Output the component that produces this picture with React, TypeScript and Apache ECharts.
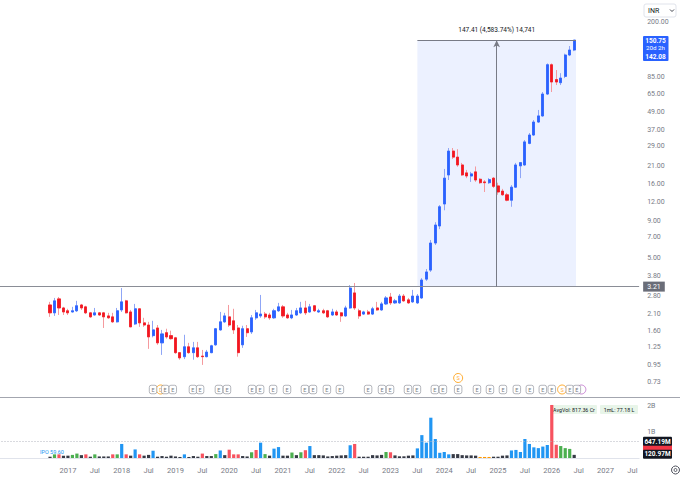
import React, { useEffect, useRef } from "react";
import * as echarts from "echarts";

// ---- time axis: monthly categories, Oct 2015 .. Aug 2027 ----
const FIRST_YEAR = 2015;
const FIRST_MONTH0 = 9; // October (0-based)
const CATEGORY_COUNT = 143;
const FIRST_BAR = 11; // Sep 2016 is category 11
const JAN_2017 = 15; // category index of Jan 2017

// ---- monthly OHLC (INR), Sep 2016 .. Jun 2026 ----
const OPEN = [
  2.42, 2.14, 2.66, 2.31, 2.21, 2.17, 2.21, 2.42, 2.35, 2.14,
  2.07, 2.14, 2.14, 2.04, 2.01, 1.86, 2.24, 2.58, 2.17, 1.8,
  2.28, 1.83, 1.77, 1.5, 1.69, 1.34, 1.57, 1.5, 1.45, 1.15,
  1.08, 1.26, 1.15, 1.24, 1.09, 1.08, 1.15, 1.3, 1.64, 1.86,
  2.01, 1.89, 1.69, 1.3, 1.67, 1.59, 1.98, 2.04, 2.1, 2.07,
  1.98, 2.21, 2.35, 2.07, 1.98, 2.07, 2.14, 2.31, 2.17, 2.39,
  2.17, 2.21, 2.21, 2.07, 2.17, 2.14, 2.04, 2.31, 2.92, 2.21,
  2.1, 2.17, 2.1, 2.31, 2.24, 2.46, 2.74, 2.5, 2.5, 2.78,
  2.62, 2.54, 2.5, 2.7, 3.62, 4.17, 6.36, 8.3, 11.7, 18.4,
  26.7, 24.3, 21.5, 19.0, 18.1, 19.3, 17.2, 16.5, 16.3, 17.5,
  15.5, 14.3, 13.5, 12.4, 15.2, 21.2, 21.5, 30.1, 34.3, 42.0,
  46.2, 65.0, 102.7, 81.5, 77.6, 85.6, 119.5, 129.2,
];
const CLOSE = [
  2.14, 2.58, 2.31, 2.17, 2.14, 2.21, 2.39, 2.31, 2.14, 2.01,
  2.14, 2.07, 2.01, 1.98, 1.86, 2.21, 2.54, 2.14, 1.72, 2.28,
  1.83, 1.77, 1.47, 1.64, 1.34, 1.54, 1.47, 1.43, 1.15, 1.06,
  1.26, 1.15, 1.24, 1.08, 1.08, 1.16, 1.28, 1.67, 1.86, 2.04,
  1.77, 1.64, 1.15, 1.67, 1.57, 1.98, 2.14, 2.1, 2.01, 1.98,
  2.21, 2.35, 2.04, 1.98, 2.07, 2.21, 2.31, 2.14, 2.35, 2.21,
  2.21, 2.14, 2.01, 2.17, 2.07, 2.04, 2.31, 3.15, 2.31, 2.04,
  2.17, 2.1, 2.28, 2.24, 2.46, 2.7, 2.5, 2.58, 2.78, 2.58,
  2.5, 2.78, 2.78, 3.57, 4.05, 6.36, 8.42, 11.2, 17.5, 26.7,
  24.3, 21.5, 18.4, 18.1, 18.7, 17.0, 16.3, 16.3, 17.1, 15.4,
  14.1, 13.5, 12.4, 15.2, 21.5, 22.3, 30.8, 34.3, 42.0, 46.2,
  65.0, 102.7, 78.4, 78.4, 83.4, 119.5, 129.2, 150.75,
];
const HIGH = [
  2.54, 2.7, 2.74, 2.35, 2.28, 2.35, 2.58, 2.46, 2.39, 2.17,
  2.31, 2.17, 2.17, 2.14, 2.14, 2.31, 3.15, 2.62, 2.24, 2.46,
  2.3, 1.98, 1.86, 1.89, 1.77, 1.64, 1.67, 1.62, 1.47, 1.16,
  1.52, 1.34, 1.36, 1.36, 1.2, 1.2, 1.3, 1.69, 2.17, 2.14,
  2.42, 2.28, 1.77, 1.75, 1.77, 2.07, 2.24, 2.83, 2.17, 2.14,
  2.28, 2.5, 2.42, 2.14, 2.24, 2.31, 2.54, 2.58, 2.46, 2.42,
  2.28, 2.28, 2.24, 2.28, 2.24, 2.17, 2.39, 3.3, 3.41, 2.28,
  2.21, 2.24, 2.35, 2.54, 2.54, 2.78, 2.92, 2.66, 2.87, 2.87,
  2.7, 3.06, 2.87, 3.68, 4.24, 6.67, 8.8, 11.5, 20.2, 28.0,
  28.0, 27.5, 22.2, 19.9, 19.3, 21.0, 17.5, 17.0, 17.5, 17.8,
  16.3, 14.8, 13.9, 15.7, 22.2, 22.5, 31.7, 35.4, 43.3, 50.7,
  67.1, 104.8, 104.8, 94.5, 90.0, 122.0, 137.5, 151.2,
];
const LOW = [
  2.01, 2.04, 2.07, 2.07, 2.07, 2.15, 2.17, 2.24, 2.1, 1.98,
  2.05, 2.04, 1.69, 1.95, 1.83, 1.84, 2.17, 2.12, 1.71, 1.77,
  1.72, 1.72, 1.22, 1.46, 1.3, 1.11, 1.43, 1.41, 1.13, 1.03,
  1.04, 1.13, 1.03, 1.06, 0.95, 1.07, 1.14, 1.28, 1.62, 1.83,
  1.72, 1.54, 1.08, 1.24, 1.47, 1.54, 1.92, 1.98, 1.95, 1.92,
  1.95, 2.17, 1.98, 1.95, 1.94, 2.04, 2.1, 2.07, 2.14, 2.17,
  2.14, 2.1, 1.98, 2.04, 2.04, 1.86, 2.01, 2.28, 2.24, 1.95,
  2.07, 2.07, 2.07, 2.21, 2.21, 2.42, 2.42, 2.46, 2.46, 2.54,
  2.46, 2.5, 2.46, 2.66, 3.52, 4.05, 6.17, 7.9, 10.6, 17.0,
  23.6, 20.9, 18.1, 17.5, 16.5, 16.5, 16.0, 14.1, 16.0, 15.0,
  13.5, 13.3, 12.2, 11.2, 15.0, 17.5, 21.2, 29.7, 33.8, 41.4,
  45.6, 64.0, 67.1, 74.8, 74.8, 83.4, 117.5, 127.0,
];

// ---- monthly volume (millions) and its colour class ----
const VOLUME = [
  50, 140, 140, 90, 90, 120, 170, 110, 140, 50,
  140, 60, 60, 60, 140, 140, 540, 140, 90, 330,
  140, 90, 120, 280, 50, 75, 50, 90, 60, 40,
  140, 40, 75, 50, 170, 75, 75, 150, 290, 110,
  320, 140, 140, 75, 60, 220, 310, 590, 150, 90,
  360, 420, 90, 90, 210, 110, 220, 300, 460, 110,
  110, 100, 60, 75, 90, 100, 110, 490, 540, 50,
  50, 50, 110, 100, 120, 230, 220, 100, 65, 65,
  90, 100, 370, 880, 590, 1550, 730, 200, 230, 140,
  150, 150, 110, 100, 100, 90, 40, 40, 40, 50,
  50, 90, 100, 290, 310, 230, 730, 540, 410, 380,
  440, 500, 2040, 510, 460, 380, 350, 120.97,
];
const VOL_CLASS =
  "dgrddggdrd" + "gdddrgbrdb" + "rddbdddddd" + "bdddrddgbd" + "rrrddgrbgd" +
  "bbddgdgrbd" + "dddddddbrd" + "dddddgrddd" + "ddbbbbbbbb" + "ddddddoood" +
  "dddbbbbbbb" + "bbrrgggd";
const VOL_MA = 647.19;
const VOL_MA2 = 404.65;

// ---- axes ----
const PRICE_TICKS = [0.73, 0.95, 1.25, 1.6, 2.1, 2.8, 3.8, 5, 7, 9, 12, 16, 21, 29, 37, 49, 65, 85, 200];
const PRICE_RANGE = [0.5668, 281.9];
const VOL_TICKS = [1000, 2000];
const VOL_MAX = 2308;

// ---- events (months after Jan 2017) ----
const EARNINGS = [
  19.0, 21.7, 23.4, 27.9, 29.5, 33.7, 35.5, 41.1, 42.9, 45.8, 48.9, 52.9, 54.7, 57.8, 60.7,
  67.0, 70.1, 71.9, 75.9, 77.9, 81.9, 83.7, 87.1, 91.3, 94.2, 97.1, 100.2, 103.1, 106.0, 108.0,
  112.0, 113.6,
];
const SPLITS = [87.1, 110.3];
const DIVIDENDS = [20.7];
const OTHER_EVENTS = [114.6];

// ---- price-range measurement ----
const MEASURE_FROM = FIRST_BAR + 82;
const MEASURE_TO = FIRST_BAR + 117.4;
const MEASURE_LOW = 3.21;
const MEASURE_HIGH = 150.62;
const MEASURE_TEXT = "147.41 (4,583.74%) 14,741";
const LAST_EXTRA = ["20d 2h", "142.08"];

const UP = "#2962FF";
const DOWN = "#F2161F";
const WICK_UP = "#8FA6F6";
const WICK_DOWN = "#F59A9E";
const VOL_COLORS: Record<string, string> = {
  b: "#2196F3",
  r: "#F7525F",
  g: "#4CAF50",
  d: "#363A45",
  o: "#FF9800",
};
const FONT = "Roboto, 'Noto Sans', sans-serif";
const AXIS_TEXT = "#787B86";

function buildCategories() {
  const out: string[] = [];
  for (let i = 0; i < CATEGORY_COUNT; i++) {
    const t = FIRST_MONTH0 + i;
    out.push(`${FIRST_YEAR + Math.floor(t / 12)}-${(t % 12) + 1}`);
  }
  return out;
}

export default function App() {
  const ref = useRef<HTMLDivElement>(null);
  useEffect(() => {
    const el = ref.current!;
    const chart = echarts.init(el, null, { renderer: "svg" });
    const LN = Math.log;
    const cats = buildCategories();
    const full = OPEN.map((o, k) => [FIRST_BAR + k, LN(o), LN(CLOSE[k]), LN(LOW[k]), LN(HIGH[k])]);
    const bodies = OPEN.map((o, k) => [
      FIRST_BAR + k,
      LN(o),
      LN(CLOSE[k]),
      LN(Math.min(o, CLOSE[k])),
      LN(Math.max(o, CLOSE[k])),
    ]);
    const vols = VOLUME.map((v, k) => ({
      value: [FIRST_BAR + k, v],
      itemStyle: { color: VOL_COLORS[VOL_CLASS[k]] },
    }));
    const ROW_LOW = 389.5;
    const ROW_HIGH = 378;
    const near = (m: number) => EARNINGS.some((e) => Math.abs(e - m) < 0.5);
    const circles: any[] = [];
    SPLITS.forEach((m) =>
      circles.push({
        value: [JAN_2017 + m, near(m) ? ROW_HIGH : ROW_LOW],
        itemStyle: { borderColor: "#FF9800" },
        label: { formatter: "S", color: "#FF9800" },
      })
    );
    DIVIDENDS.forEach((m) =>
      circles.push({
        value: [JAN_2017 + m, near(m) ? ROW_HIGH : ROW_LOW],
        itemStyle: { borderColor: "#FF9800" },
        label: { formatter: "D", color: "#FF9800" },
      })
    );
    OTHER_EVENTS.forEach((m) =>
      circles.push({
        value: [JAN_2017 + m, near(m) ? ROW_HIGH : ROW_LOW],
        itemStyle: { borderColor: "#BA68C8" },
        label: { formatter: "", color: "#BA68C8" },
      })
    );
    const mid = (MEASURE_FROM + MEASURE_TO) / 2;
    const measureLine = { color: "#787B86", width: 1, type: "solid" };

    const option: any = {
      animation: false,
      backgroundColor: "#ffffff",
      textStyle: { fontFamily: FONT },
      grid: [
        { left: -1.5, top: 0, width: 640.64, height: 398, outerBoundsMode: "none", containLabel: false },
        { left: -1.5, top: 398, width: 640.64, height: 60, outerBoundsMode: "none", containLabel: false },
      ],
      xAxis: [
        { gridIndex: 0, type: "category", data: cats, show: false },
        {
          gridIndex: 1,
          type: "category",
          data: cats,
          axisLine: { show: true, lineStyle: { color: "#E0E3EB" } },
          axisTick: { show: false },
          splitLine: { show: false },
          axisLabel: {
            color: AXIS_TEXT,
            fontSize: 7.5,
            fontFamily: FONT,
            margin: 8,
            interval: (i: number, v: string) => {
              const m = Number(v.split("-")[1]);
              return i >= JAN_2017 && (m === 1 || m === 7);
            },
            formatter: (v: string) => {
              const [y, m] = v.split("-");
              return m === "1" ? y : "Jul";
            },
          },
        },
        { gridIndex: 0, type: "value", min: -0.5, max: CATEGORY_COUNT - 0.5, show: false },
      ],
      yAxis: [
        {
          gridIndex: 0,
          type: "value",
          position: "right",
          min: LN(PRICE_RANGE[0]),
          max: LN(PRICE_RANGE[1]),
          axisLine: { show: false },
          axisTick: { show: false },
          splitLine: { show: false },
          axisLabel: {
            customValues: PRICE_TICKS.map(LN),
            formatter: (v: number) => Math.exp(v).toFixed(2),
            color: AXIS_TEXT,
            fontSize: 7,
            fontFamily: FONT,
            margin: 8,
          },
        },
        {
          gridIndex: 1,
          type: "value",
          position: "right",
          min: 0,
          max: VOL_MAX,
          axisLine: { show: false },
          axisTick: { show: false },
          splitLine: { show: false },
          axisLabel: {
            customValues: VOL_TICKS,
            formatter: (v: number) => `${v / 1000}B`,
            color: AXIS_TEXT,
            fontSize: 7,
            fontFamily: FONT,
            margin: 8,
          },
        },
        { gridIndex: 0, type: "value", min: 0, max: 398, inverse: true, show: false },
      ],
      series: [
        {
          type: "line",
          xAxisIndex: 2,
          yAxisIndex: 0,
          z: 1,
          data: [[mid, LN(MEASURE_LOW)]],
          symbol: "none",
          lineStyle: { opacity: 0 },
          silent: true,
          markArea: {
            silent: true,
            itemStyle: { color: "rgba(41,98,255,0.09)", borderWidth: 0 },
            label: {
              show: true,
              position: "top",
              distance: 7,
              color: "#131722",
              fontSize: 6.5,
              fontFamily: FONT,
            },
            data: [
              [
                { name: MEASURE_TEXT, coord: [MEASURE_FROM, LN(MEASURE_LOW)] },
                { coord: [MEASURE_TO, LN(MEASURE_HIGH)] },
              ],
            ],
          },
          markLine: {
            silent: true,
            symbol: ["none", "none"],
            label: { show: false },
            data: [
              {
                yAxis: LN(MEASURE_LOW),
                lineStyle: { color: "#8A8D96", width: 1, type: "solid" },
                label: {
                  show: true,
                  position: "end",
                  distance: 4,
                  formatter: MEASURE_LOW.toFixed(2),
                  color: "#ffffff",
                  backgroundColor: "#6A6D78",
                  padding: [2, 4, 1, 4],
                  fontSize: 7,
                  fontFamily: FONT,
                },
              },
              [
                { coord: [MEASURE_FROM, LN(MEASURE_HIGH)], lineStyle: measureLine },
                { coord: [MEASURE_TO, LN(MEASURE_HIGH)] },
              ],
              [
                { coord: [mid, LN(MEASURE_LOW)], symbol: "none", lineStyle: measureLine },
                { coord: [mid, LN(MEASURE_HIGH)], symbol: "arrow", symbolSize: [5, 7] },
              ],
            ],
          },
        },
        {
          type: "candlestick",
          xAxisIndex: 0,
          yAxisIndex: 0,
          z: 2,
          barWidth: 2.6,
          encode: { x: 0, y: [1, 2, 3, 4] },
          data: full,
          itemStyle: {
            color: "rgba(0,0,0,0)",
            color0: "rgba(0,0,0,0)",
            borderColor: WICK_UP,
            borderColor0: WICK_DOWN,
            borderWidth: 1,
          },
        },
        {
          type: "candlestick",
          xAxisIndex: 0,
          yAxisIndex: 0,
          z: 3,
          barWidth: 2.6,
          encode: { x: 0, y: [1, 2, 3, 4] },
          data: bodies,
          itemStyle: {
            color: UP,
            color0: DOWN,
            borderColor: UP,
            borderColor0: DOWN,
            borderWidth: 0.7,
          },
        },
        {
          type: "bar",
          xAxisIndex: 1,
          yAxisIndex: 1,
          barWidth: 3.2,
          data: vols,
          markLine: {
            silent: true,
            symbol: ["none", "none"],
            label: { show: false },
            data: [
              { yAxis: VOL_MA, lineStyle: { color: "#B2B5BE", width: 1, type: [1, 2] } },
            ],
          },
        },
        {
          type: "scatter",
          xAxisIndex: 2,
          yAxisIndex: 2,
          z: 3,
          symbol: "circle",
          symbolSize: 9,
          itemStyle: { color: "#ffffff", borderWidth: 1 },
          label: { show: true, position: "inside", fontSize: 5.5, fontFamily: FONT },
          data: circles,
        },
        {
          type: "scatter",
          xAxisIndex: 2,
          yAxisIndex: 2,
          z: 4,
          symbol: "roundRect",
          symbolSize: [7.5, 8.5],
          itemStyle: { color: "#ffffff", borderColor: "#8A8D96", borderWidth: 0.8 },
          label: {
            show: true,
            position: "inside",
            formatter: "E",
            fontSize: 5.5,
            color: "#50535E",
            fontFamily: FONT,
          },
          data: EARNINGS.map((m) => [JAN_2017 + m, ROW_LOW]),
        },
      ],
    };
    chart.setOption(option);

    const last = CLOSE.length - 1;
    const pt = chart.convertToPixel({ seriesIndex: 2 }, [FIRST_BAR + last, LN(CLOSE[last])]) as number[];
    const py = pt ? pt[1] : 40;
    const volY = (v: number) => {
      const p = chart.convertToPixel({ seriesIndex: 3 }, [FIRST_BAR + last, v]) as number[];
      return p ? p[1] : 458 - v * 0.026;
    };
    const maY = volY(VOL_MA);
    const ma2Y = volY(VOL_MA2);
    const lastVolY = volY(VOLUME[last]);
    const txt = (text: string, x: number, y: number, size: number, fill: string, extra: any = {}) => ({
      type: "text",
      x,
      y,
      style: {
        text,
        fill,
        fontSize: size,
        fontFamily: FONT,
        align: extra.align || "left",
        textAlign: extra.align || "left",
        verticalAlign: "middle",
        textVerticalAlign: "middle",
        fontWeight: extra.bold ? "bold" : "normal",
      },
      z: extra.z ?? 100,
    });
    chart.setOption({
      graphic: [
        { type: "line", shape: { x1: 0, y1: 397.5, x2: 680, y2: 397.5 }, style: { stroke: "#A3A6AF", lineWidth: 1 }, z: 50 },
        // currency box
        { type: "rect", shape: { x: 644, y: 4, width: 32, height: 13, r: 2 }, style: { fill: "#fff", stroke: "#E0E3EB", lineWidth: 1 }, z: 100 },
        txt("INR", 648, 10.5, 7, "#131722"),
        { type: "polyline", shape: { points: [[670, 9.5], [672, 11.5], [674, 9.5]] }, style: { stroke: "#131722", lineWidth: 0.8, fill: "none" }, z: 100 },
        // last price box
        { type: "rect", shape: { x: 643, y: py - 4, width: 25.5, height: 25, r: 1 }, style: { fill: "#2962FF" }, z: 100 },
        txt(CLOSE[last].toFixed(2), 655.5, py + 1, 6.5, "#ffffff", { align: "center", bold: true, z: 101 }),
        txt(LAST_EXTRA[0], 655.5, py + 7.5, 6.2, "#ffffff", { align: "center", z: 101 }),
        txt(LAST_EXTRA[1], 655.5, py + 16.5, 6.5, "#ffffff", { align: "center", bold: true, z: 101 }),
        // volume scale labels
        { type: "rect", shape: { x: 643, y: ma2Y - 4.5, width: 29, height: 9, r: 1 }, style: { fill: "#F23645" }, z: 100 },
        { type: "rect", shape: { x: 643, y: maY - 4.5, width: 29, height: 9, r: 1 }, style: { fill: "#131722" }, z: 101 },
        txt(`${VOL_MA.toFixed(2)}M`, 657.5, maY + 0.5, 6.5, "#ffffff", { align: "center", bold: true, z: 102 }),
        { type: "rect", shape: { x: 643, y: lastVolY - 5, width: 29, height: 9, r: 1 }, style: { fill: "#131722" }, z: 101 },
        txt(`${VOLUME[last].toFixed(2)}M`, 657.5, lastVolY - 0.5, 6.5, "#ffffff", { align: "center", bold: true, z: 102 }),
        // volume pane notes
        txt("IPO 59.60", 40, 452, 5.5, "#2196F3", { z: 0 }),
        { type: "rect", shape: { x: 551, y: 405, width: 46, height: 9, r: 1 }, style: { fill: "#E8F5E9" }, z: 0 },
        txt("AvgVol: 817.36 Cr", 574, 409.5, 5.3, "#131722", { align: "center", z: 0 }),
        { type: "rect", shape: { x: 600, y: 405, width: 38, height: 9, r: 1 }, style: { fill: "#E8F5E9" }, z: 0 },
        txt("1mL: 77.18 L", 619, 409.5, 5.3, "#131722", { align: "center", z: 0 }),
        // settings icon
        { type: "circle", shape: { cx: 675.5, cy: 470, r: 4 }, style: { fill: "none", stroke: "#50535E", lineWidth: 1 }, z: 100 },
        { type: "circle", shape: { cx: 675.5, cy: 470, r: 1.5 }, style: { fill: "none", stroke: "#50535E", lineWidth: 1 }, z: 100 },
      ],
    });
    return () => chart.dispose();
  }, []);
  return (
    <div
      ref={ref}
      style={{ position: "fixed", left: 0, top: 0, width: 680, height: 480, background: "#ffffff" }}
    />
  );
}
